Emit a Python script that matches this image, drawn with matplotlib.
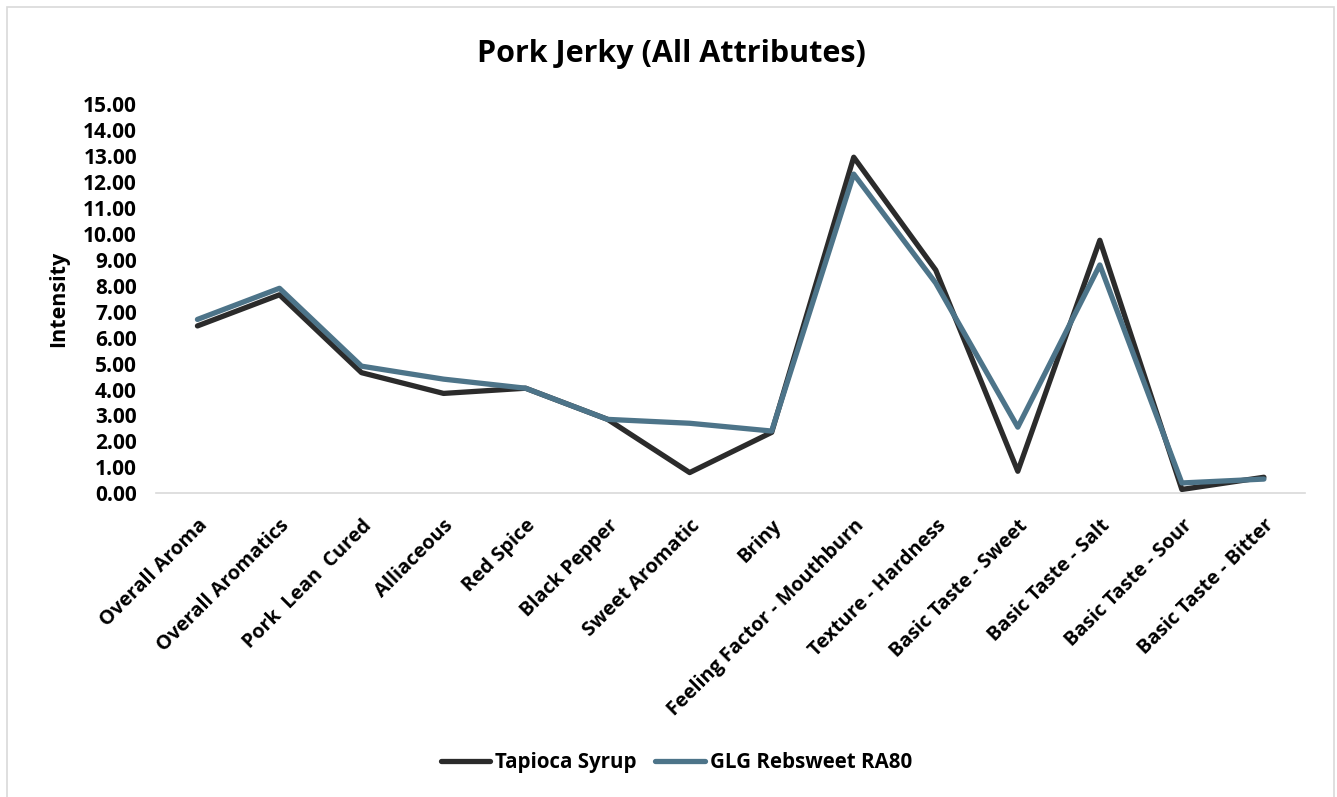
import matplotlib.pyplot as plt
from matplotlib.patches import Rectangle

plt.rcParams['font.family'] = ['Open Sans', 'DejaVu Sans']
plt.rcParams['font.weight'] = 'bold'

attributes = ['Overall Aroma', 'Overall Aromatics', 'Pork  Lean  Cured', 'Alliaceous',
              'Red Spice', 'Black Pepper', 'Sweet Aromatic', 'Briny',
              'Feeling Factor - Mouthburn', 'Texture - Hardness', 'Basic Taste - Sweet',
              'Basic Taste - Salt', 'Basic Taste - Sour', 'Basic Taste - Bitter']
tapioca = [6.45, 7.65, 4.65, 3.85, 4.05, 2.85, 0.80, 2.35, 12.95, 8.60, 0.85, 9.75, 0.15, 0.62]
rebsweet = [6.70, 7.90, 4.90, 4.40, 4.05, 2.85, 2.70, 2.40, 12.30, 8.10, 2.55, 8.80, 0.40, 0.55]
yticks = [i for i in range(16)]

fig = plt.figure(figsize=(13.37, 7.97), dpi=100)
fig.patches.append(Rectangle((0.005, -0.01), 0.993, 1.001, transform=fig.transFigure,
                             fill=False, edgecolor='#d9d9d9', linewidth=1.2))
ax = fig.add_axes([0.117, 0.381, 0.859, 0.4885])

x = list(range(len(attributes)))
ax.plot(x, tapioca, color='#2b2b2b', linewidth=3.8, label='Tapioca Syrup',
        solid_capstyle='round', solid_joinstyle='round')
ax.plot(x, rebsweet, color='#4d7489', linewidth=3.8, label='GLG Rebsweet RA80',
        solid_capstyle='round', solid_joinstyle='round')

ax.set_xlim(-0.5, len(attributes) - 0.5)
ax.set_ylim(0, 15)
ax.set_yticks(yticks)
ax.set_yticklabels(['{:.2f}'.format(v) for v in yticks], fontsize=15, fontweight='bold')
ax.set_xticks(x)
ax.set_xticklabels(attributes, rotation=45, ha='right', rotation_mode='anchor',
                   fontsize=14.3, fontweight='bold')
ax.tick_params(axis='y', length=0, pad=14)
ax.tick_params(axis='x', length=0, pad=16)

for side in ['top', 'right', 'left']:
    ax.spines[side].set_visible(False)
ax.spines['bottom'].set_color('#d9d9d9')
ax.spines['bottom'].set_linewidth(1.2)

ax.set_ylabel('Intensity', fontsize=15.5, fontweight='bold', labelpad=10)
fig.text(0.502, 0.932, 'Pork Jerky (All Attributes)', ha='center', va='center',
         fontsize=22, fontweight='bold')

fig.legend(loc='center', bbox_to_anchor=(0.506, 0.043), ncol=2, frameon=False,
           prop={'size': 14.8, 'weight': 'bold'}, handlelength=2.4, handletextpad=0.25,
           columnspacing=0.9)

fig.savefig('out.png', dpi=100)
